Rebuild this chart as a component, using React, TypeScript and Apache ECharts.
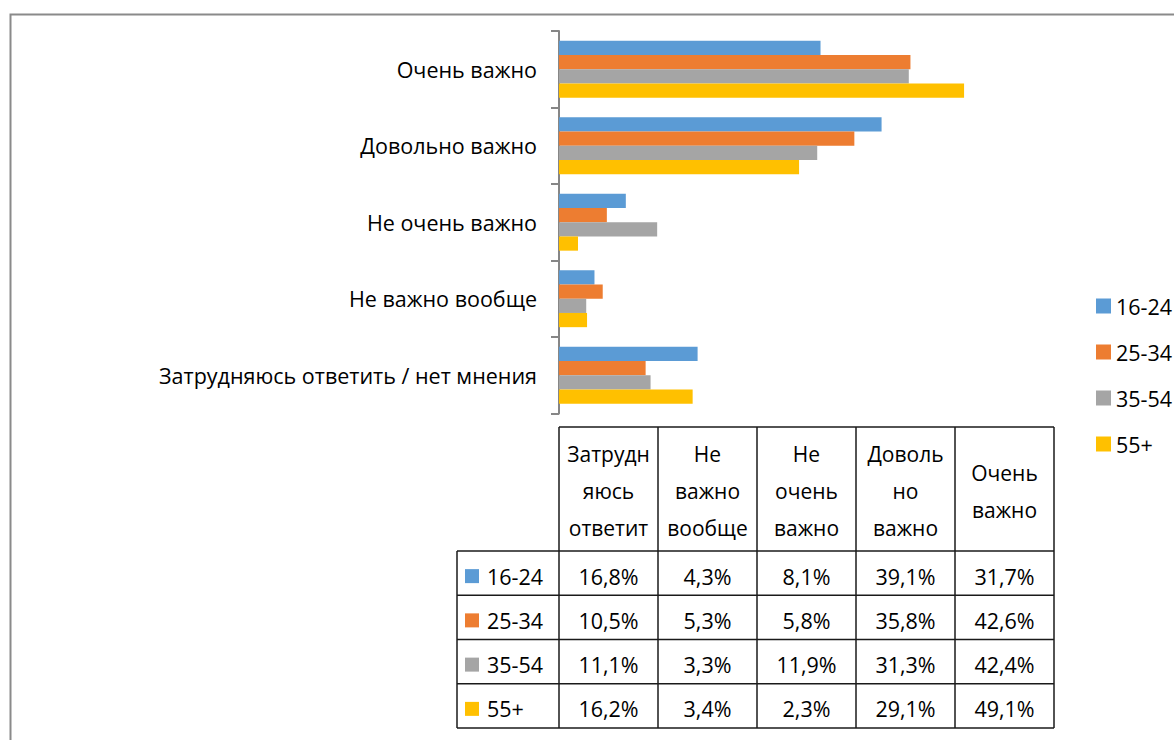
import React, { useEffect, useRef } from "react";
import * as echarts from "echarts";

const categories = [
  "Затрудняюсь ответить / нет мнения",
  "Не важно вообще",
  "Не очень важно",
  "Довольно важно",
  "Очень важно",
];
const tableHeaders = [
  "Затрудн\nяюсь\nответит",
  "Не\nважно\nвообще",
  "Не\nочень\nважно",
  "Доволь\nно\nважно",
  "Очень\nважно",
];
const seriesNames = ["16-24", "25-34", "35-54", "55+"];
const values16_24 = [16.8, 4.3, 8.1, 39.1, 31.7];
const values25_34 = [10.5, 5.3, 5.8, 35.8, 42.6];
const values35_54 = [11.1, 3.3, 11.9, 31.3, 42.4];
const values55 = [16.2, 3.4, 2.3, 29.1, 49.1];
const seriesValues = [values16_24, values25_34, values35_54, values55];
const colors = ["#5B9BD5", "#ED7D31", "#A5A5A5", "#FFC000"];

const FONT = "Open Sans";
const FS = 21.5;

export default function App() {
  const ref = useRef<HTMLDivElement>(null);
  useEffect(() => {
    if (!ref.current) return;
    const chart = echarts.init(ref.current, null, { renderer: "svg" });

    const gridLeft = 559;
    const gridRight = 1054;
    const colW = (gridRight - gridLeft) / categories.length;
    const headTop = 427;
    const headBottom = 551;
    const rowH = 44.25;
    const tableLeft = 457;
    const tableBottom = headBottom + rowH * seriesNames.length;
    const lineStyle = { stroke: "#1a1a1a", lineWidth: 1.5 };

    const graphics: any[] = [];
    // outer frame (top & left visible)
    graphics.push({
      type: "rect",
      shape: { x: 10.5, y: 14.5, width: 2000, height: 2000 },
      style: { fill: "none", stroke: "#8a8a8a", lineWidth: 2 },
      silent: true,
    });
    // table lines
    graphics.push({
      type: "line",
      shape: { x1: gridLeft, y1: headTop, x2: gridRight, y2: headTop },
      style: lineStyle,
    });
    for (let i = 0; i <= categories.length; i++) {
      const x = gridLeft + colW * i;
      graphics.push({
        type: "line",
        shape: { x1: x, y1: headTop, x2: x, y2: tableBottom },
        style: lineStyle,
      });
    }
    graphics.push({
      type: "line",
      shape: { x1: tableLeft, y1: headBottom, x2: tableLeft, y2: tableBottom },
      style: lineStyle,
    });
    for (let r = 0; r <= seriesNames.length; r++) {
      const y = headBottom + rowH * r;
      graphics.push({
        type: "line",
        shape: { x1: tableLeft, y1: y, x2: gridRight, y2: y },
        style: lineStyle,
      });
    }
    // header texts
    tableHeaders.forEach((h, i) => {
      graphics.push({
        type: "text",
        x: gridLeft + colW * i + colW / 2,
        y: (headTop + headBottom) / 2 + 2,
        style: {
          text: h,
          fontFamily: FONT,
          fontSize: FS - 0.5,
          lineHeight: 37,
          fill: "#000",
          align: "center",
          verticalAlign: "middle",
        },
      });
    });
    // rows
    seriesNames.forEach((name, r) => {
      const cy = headBottom + rowH * r + rowH / 2 + 3;
      graphics.push({
        type: "rect",
        shape: { x: 465, y: cy - 7, width: 14, height: 14 },
        style: { fill: colors[r] },
      });
      graphics.push({
        type: "text",
        x: 487,
        y: cy,
        style: {
          text: name,
          fontFamily: FONT,
          fontSize: FS,
          fill: "#000",
          align: "left",
          verticalAlign: "middle",
        },
      });
      seriesValues[r].forEach((v, i) => {
        graphics.push({
          type: "text",
          x: gridLeft + colW * i + colW / 2,
          y: cy,
          style: {
            text: v.toFixed(1).replace(".", ",") + "%",
            fontFamily: FONT,
            fontSize: FS,
            fill: "#000",
            align: "center",
            verticalAlign: "middle",
          },
        });
      });
    });

    chart.setOption({
      animation: false,
      textStyle: { fontFamily: FONT },
      grid: {
        left: gridLeft,
        right: 1174 - gridRight,
        top: 31,
        bottom: 740 - 413.5,
        containLabel: false,
      },
      legend: {
        orient: "vertical",
        left: 1091,
        top: 289,
        itemWidth: 15,
        itemHeight: 15,
        itemGap: 22,
        icon: "rect",
        data: seriesNames,
        textStyle: {
          fontFamily: FONT,
          fontSize: FS,
          color: "#000",
          lineHeight: 24,
          padding: [0, 0, 0, 0],
        },
      },
      xAxis: {
        type: "value",
        min: 0,
        max: 60,
        show: false,
        splitLine: { show: false },
      },
      yAxis: {
        type: "category",
        data: categories,
        axisLine: { lineStyle: { color: "#868686", width: 2 } },
        axisTick: { show: true, length: 8, lineStyle: { color: "#868686", width: 2 } },
        axisLabel: {
          fontFamily: FONT,
          fontSize: FS,
          color: "#000",
          margin: 22,
        },
      },
      series: seriesNames.map((name, i) => ({
        name,
        type: "bar",
        data: seriesValues[i],
        itemStyle: { color: colors[i] },
        barGap: "0%",
        barCategoryGap: "25.7%",
      })),
      graphic: graphics,
    });
    return () => chart.dispose();
  }, []);
  return (
    <div
      ref={ref}
      style={{ position: "fixed", left: 0, top: 0, width: 1174, height: 740, background: "#fff" }}
    />
  );
}
